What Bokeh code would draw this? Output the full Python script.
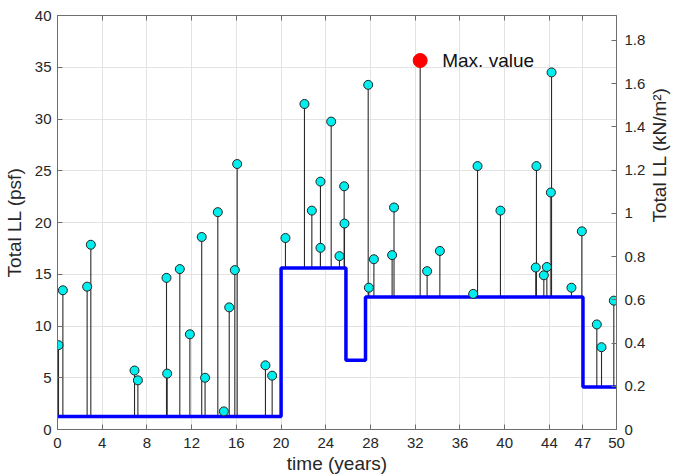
import math
import numpy as np
from bokeh.plotting import figure
from bokeh.models import LinearAxis, Range1d, FixedTicker, CustomJSTickFormatter
from bokeh.core.properties import value
from bokeh.embed import file_html
from bokeh.resources import INLINE

# ---- data ----
event_times = [0.09, 0.48, 2.65, 2.98, 6.89, 7.19, 9.75, 9.81, 10.94, 11.84, 12.9, 13.2,
               14.34, 14.88, 15.36, 15.86, 16.07, 18.6, 19.2, 20.39, 22.09, 22.75, 23.52,
               23.52, 24.48, 25.22, 25.64, 25.67, 27.79, 27.85, 28.3, 29.93, 30.1, 32.44,
               33.06, 34.2, 37.18, 37.57, 39.62, 42.78, 42.84, 43.5, 43.77, 44.13, 44.19,
               45.97, 46.9, 48.24, 48.66, 49.76]
event_values = [8.15, 13.45, 13.8, 17.85, 5.7, 4.75, 14.65, 5.4, 15.5, 9.2, 18.6, 5.0,
                21.0, 1.75, 11.8, 15.4, 25.65, 6.2, 5.2, 18.5, 31.45, 21.15, 23.95,
                17.55, 29.75, 16.75, 23.5, 19.9, 33.3, 13.7, 16.45, 16.85, 21.45, 35.65,
                15.3, 17.25, 13.1, 25.45, 21.15, 15.65, 25.45, 14.9, 15.7, 22.9, 34.5,
                13.7, 19.15, 10.15, 7.95, 12.45]
step_edges = [0, 20, 25.8, 27.55, 47, 50]
step_levels = [1.25, 15.6, 6.7, 12.8, 4.1]
x_ticks = [0, 4, 8, 12, 16, 20, 24, 28, 32, 36, 40, 44, 47, 50]
y_ticks = [0, 5, 10, 15, 20, 25, 30, 35, 40]
right_ticks = [0, 0.2, 0.4, 0.6, 0.8, 1.0, 1.2, 1.4, 1.6, 1.8]
psf_to_kpa = 0.04788
x_max, y_max = 50, 40
label_text = "Max. value"
x_label = "time (years)"
y_label = "Total LL (psf)"
y2_label = "Total LL (kN/m\u00b2)"

FONT = "Liberation Sans"
AX = "#6e6e6e"
TXT = "#262626"
TICK_FS = "15px"
LAB_FS = "19px"

t = np.array(event_times)
v = np.array(event_values)
idx = np.searchsorted(np.array(step_edges), t, side="right") - 1
idx = np.clip(idx, 0, len(step_levels) - 1)
base = np.array(step_levels)[idx]
imax = int(np.argmax(v))
mask = np.ones(len(v), bool)
mask[imax] = False

p = figure(frame_width=559, frame_height=414, x_range=Range1d(0, x_max), y_range=Range1d(0, y_max),
           output_backend="svg", toolbar_location=None,
           min_border_left=50, min_border_top=15, min_border_right=55, min_border_bottom=46)
p.background_fill_color = "white"
p.border_fill_color = "white"
p.outline_line_color = AX
p.outline_line_width = 1

p.extra_y_ranges = {"kpa": Range1d(0, y_max * psf_to_kpa)}

for ax in (p.xaxis[0], p.yaxis[0]):
    ax.axis_line_color = AX
    ax.major_tick_line_color = AX
    ax.major_tick_in = 5
    ax.major_tick_out = 0
    ax.minor_tick_line_color = None
    ax.major_label_text_font = FONT
    ax.major_label_text_font_size = TICK_FS
    ax.major_label_text_color = TXT
    ax.axis_label_text_font = FONT
    ax.axis_label_text_font_size = LAB_FS
    ax.axis_label_text_font_style = "normal"
    ax.axis_label_text_color = TXT

p.xaxis[0].ticker = FixedTicker(ticks=x_ticks)
p.yaxis[0].ticker = FixedTicker(ticks=y_ticks)
p.xaxis[0].axis_label = x_label
p.yaxis[0].axis_label = y_label
p.xaxis[0].major_label_standoff = 8
p.xaxis[0].axis_label_standoff = 2
p.yaxis[0].major_label_standoff = 6
p.yaxis[0].axis_label_standoff = 7

# top axis (ticks only)
top = LinearAxis(ticker=FixedTicker(ticks=x_ticks),
                 formatter=CustomJSTickFormatter(code="return ''"))
top.axis_line_color = AX
top.major_tick_line_color = AX
top.major_tick_in = 5
top.major_tick_out = 0
top.minor_tick_line_color = None
top.major_label_text_font_size = "1px"
top.major_label_standoff = 0
p.add_layout(top, "above")

right = LinearAxis(y_range_name="kpa", ticker=FixedTicker(ticks=right_ticks),
                   formatter=CustomJSTickFormatter(code="return String(tick)"),
                   axis_label=y2_label)
right.axis_line_color = AX
right.major_tick_line_color = AX
right.major_tick_in = 5
right.major_tick_out = 0
right.minor_tick_line_color = None
right.major_label_text_font = FONT
right.major_label_text_font_size = TICK_FS
right.major_label_text_color = TXT
right.major_label_standoff = 8
right.axis_label_text_font = FONT
right.axis_label_text_font_size = LAB_FS
right.axis_label_text_font_style = "normal"
right.axis_label_text_color = TXT
right.axis_label_standoff = 11
if "axis_label_orientation" in right.properties():
    right.axis_label_orientation = math.pi / 2
p.add_layout(right, "right")

p.xgrid.ticker = FixedTicker(ticks=x_ticks)
p.ygrid.ticker = FixedTicker(ticks=y_ticks)
p.grid.grid_line_color = "#e3e3e3"
p.grid.grid_line_width = 1

# stems
p.segment(x0=t, y0=base, x1=t, y1=v, line_color="#2a2a2a", line_width=1.1)

# step line
p.step(x=step_edges, y=step_levels + [step_levels[-1]], mode="after",
       line_color="#0000ff", line_width=3.5)

# markers
p.scatter(x=t[mask], y=v[mask], size=9, fill_color="#00eeee", line_color="#222222", line_width=1)
p.scatter(x=[t[imax]], y=[v[imax]], size=14, fill_color="#ff0000", line_color="#ff0000")

p.text(x=[t[imax]], y=[v[imax]], text=[label_text], x_offset=22, text_baseline="middle",
       text_font=value(FONT), text_font_size=LAB_FS, text_color="#111111")

open("out.html", "w").write(file_html(p, INLINE))
